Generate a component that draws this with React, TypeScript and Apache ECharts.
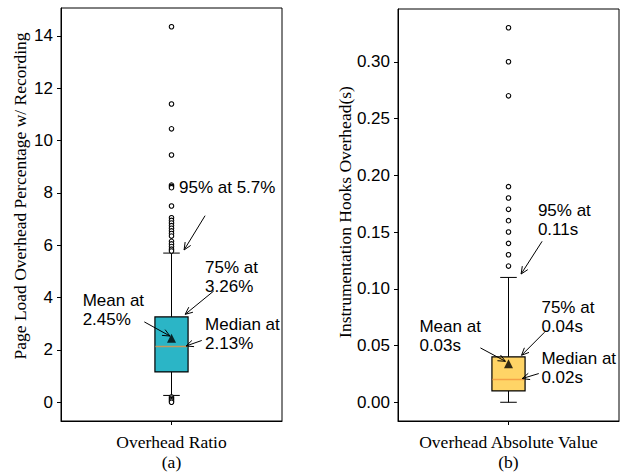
import React, { useEffect, useRef } from "react";
import * as echarts from "echarts";

// ---------- data ----------
const categories = ["Overhead Ratio", "Overhead Absolute Value"];
const subLabels = ["(a)", "(b)"];
const yNames = ["Page Load Overhead Percentage w/ Recording", "Instrumentation Hooks Overhead(s)"];

// [whiskerLow, Q1, median, Q3, whiskerHigh]
const ratioBox = [0.26, 1.16, 2.13, 3.26, 5.7];
const ratioMean = 2.45;
const ratioOutliers = [14.35, 11.4, 10.45, 9.45, 8.3, 8.25, 8.2, 7.5, 7.05, 6.95, 6.85, 6.75, 6.65, 6.55, 6.45, 6.35, 6.15, 6.05, 5.95, 5.85, 5.78, 0.2, 0.15, 0.1, 0.05, 0.0];
const ratioTicks = [0, 2, 4, 6, 8, 10, 12, 14];

const absBox = [0.0, 0.01, 0.02, 0.04, 0.11];
const absMean = 0.034;
const absOutliers = [0.33, 0.3, 0.27, 0.19, 0.18, 0.17, 0.16, 0.15, 0.14, 0.13, 0.12];
const absTicks = [0, 0.05, 0.1, 0.15, 0.2, 0.25, 0.3];

// annotations: label lines, text anchor [x, y(middle)], arrow tail, arrow head (data coords)
const ratioNoteLabels = [["95% at 5.7%"], ["75% at", "3.26%"], ["Mean at", "2.45%"], ["Median at", "2.13%"]];
const ratioNotePos = [[1.034, 8.19], [1.152, 4.77], [0.598, 3.54], [1.152, 2.59]];
const ratioNoteTail = [[1.152, 7.13], [1.191, 4.25], [0.877, 3.07], [1.137, 2.36]];
const ratioNoteHead = [[1.057, 5.82], [1.062, 3.36], [0.993, 2.53], [1.066, 2.15]];

const absNoteLabels = [["95% at", "0.11s"], ["75% at", "0.04s"], ["Mean at", "0.03s"], ["Median at", "0.02s"]];
const absNotePos = [[1.133, 0.1605], [1.149, 0.0753], [0.597, 0.0588], [1.149, 0.0305]];
const absNoteTail = [[1.152, 0.1418], [1.163, 0.0617], [0.873, 0.0479], [1.137, 0.0253]];
const absNoteHead = [[1.057, 0.113], [1.059, 0.0414], [0.986, 0.0361], [1.062, 0.0209]];

const boxColors = ["#2bb5c6", "#ffd466"];
const medianColors = ["#c4995c", "#f5a045"];

const SANS = "Liberation Sans, Arial, sans-serif";
const SERIF = "Liberation Serif, Times New Roman, serif";
const LINE_GAP = 19;

function range(vals: number[]) {
  const mn = Math.min(...vals);
  const mx = Math.max(...vals);
  const pad = (mx - mn) * 0.05;
  return [mn - pad, mx + pad];
}

function boxSeries(idx: number, stats: number[], color: string, med: string) {
  return {
    type: "custom",
    xAxisIndex: idx,
    yAxisIndex: idx,
    clip: false,
    z: 2,
    data: [[1, ...stats]],
    renderItem: (params: any, api: any) => {
      const x = api.value(0);
      const lo = api.coord([x, api.value(1)]);
      const q1 = api.coord([x, api.value(2)]);
      const md = api.coord([x, api.value(3)]);
      const q3 = api.coord([x, api.value(4)]);
      const hi = api.coord([x, api.value(5)]);
      const w = api.size([0.15, 0])[0];
      const cw = w / 2;
      const cx = md[0];
      const ls = { stroke: "#000", lineWidth: 1, fill: null };
      return {
        type: "group",
        children: [
          { type: "line", shape: { x1: cx, y1: q3[1], x2: cx, y2: hi[1] }, style: ls },
          { type: "line", shape: { x1: cx, y1: q1[1], x2: cx, y2: lo[1] }, style: ls },
          { type: "line", shape: { x1: cx - cw / 2, y1: hi[1], x2: cx + cw / 2, y2: hi[1] }, style: ls },
          { type: "line", shape: { x1: cx - cw / 2, y1: lo[1], x2: cx + cw / 2, y2: lo[1] }, style: ls },
          { type: "rect", shape: { x: cx - w / 2, y: q3[1], width: w, height: q1[1] - q3[1] }, style: { fill: color, stroke: "#000", lineWidth: 1.2 } },
          { type: "line", shape: { x1: cx - w / 2 + 0.6, y1: md[1], x2: cx + w / 2 - 0.6, y2: md[1] }, style: { stroke: med, lineWidth: 1.6 } },
        ],
      };
    },
  };
}

function noteSeries(idx: number, labels: string[][], pos: number[][], tail: number[][], head: number[][]) {
  return {
    type: "custom",
    xAxisIndex: idx,
    yAxisIndex: idx,
    clip: false,
    z: 5,
    data: labels.map((_, i) => [pos[i][0], pos[i][1], tail[i][0], tail[i][1], head[i][0], head[i][1]]),
    renderItem: (params: any, api: any) => {
      const i = params.dataIndex;
      const p = api.coord([api.value(0), api.value(1)]);
      const t = api.coord([api.value(2), api.value(3)]);
      const h = api.coord([api.value(4), api.value(5)]);
      const ang = Math.atan2(t[1] - h[1], t[0] - h[0]);
      const L = 8;
      const a = 0.42;
      const w1 = [h[0] + L * Math.cos(ang + a), h[1] + L * Math.sin(ang + a)];
      const w2 = [h[0] + L * Math.cos(ang - a), h[1] + L * Math.sin(ang - a)];
      const lines = labels[i];
      const n = lines.length;
      const texts = lines.map((s, k) => ({
        type: "text",
        x: p[0],
        y: p[1] + (k - (n - 1) / 2) * LINE_GAP,
        style: { text: s, fill: "#000", font: `17px ${SANS}`, align: "left", verticalAlign: "middle" },
      }));
      return {
        type: "group",
        children: [
          ...texts,
          { type: "line", shape: { x1: t[0], y1: t[1], x2: h[0], y2: h[1] }, style: { stroke: "#000", lineWidth: 1 } },
          { type: "polyline", shape: { points: [w1, h, w2] }, style: { stroke: "#000", lineWidth: 1, fill: null } },
        ],
      };
    },
  };
}

export default function App() {
  const ref = useRef<HTMLDivElement>(null);
  useEffect(() => {
    if (!ref.current) return;
    const chart = echarts.init(ref.current, undefined, { renderer: "svg" });
    const grids = [
      { left: 61, right: 342, top: 8, bottom: 50 },
      { left: 398, right: 5, top: 9, bottom: 50 },
    ];
    const ranges = [range([...ratioBox, ...ratioOutliers]), range([...absBox, ...absOutliers])];
    const ticks = [ratioTicks, absTicks];
    const xAxes = [0, 1].map((i) => ({
      type: "value",
      gridIndex: i,
      min: 0.5,
      max: 1.5,
      splitLine: { show: false },
      axisLine: { show: true, onZero: false, lineStyle: { color: "#000", width: 1 } },
      axisTick: { show: true, length: 4, customValues: [1], lineStyle: { color: "#000" } },
      axisLabel: {
        show: true,
        customValues: [1],
        margin: 11,
        formatter: () => `${categories[i]}\n${subLabels[i]}`,
        fontFamily: SERIF,
        fontSize: 17.5,
        lineHeight: 20,
        color: "#000",
      },
    }));
    const yAxes = [0, 1].map((i) => ({
      type: "value",
      gridIndex: i,
      min: ranges[i][0],
      max: ranges[i][1],
      splitLine: { show: false },
      axisLine: { show: true, onZero: false, lineStyle: { color: "#000", width: 1 } },
      axisTick: { show: true, length: 4, customValues: ticks[i], lineStyle: { color: "#000" } },
      axisLabel: {
        show: true,
        customValues: ticks[i],
        margin: 8,
        formatter: (v: number) => (i === 0 ? String(Math.round(v)) : v.toFixed(2)),
        fontFamily: SANS,
        fontSize: 17,
        color: "#000",
      },
    }));
    chart.setOption({
      animation: false,
      backgroundColor: "#fff",
      grid: grids.map((g) => ({ ...g, show: true, borderColor: "#000", borderWidth: 1, backgroundColor: "transparent" })),
      xAxis: xAxes,
      yAxis: yAxes,
      graphic: [
        {
          type: "text",
          x: 20,
          y: 196,
          rotation: Math.PI / 2,
          style: { text: yNames[0], font: `17.5px ${SERIF}`, fill: "#000", align: "center", verticalAlign: "middle" },
        },
        {
          type: "text",
          x: 345,
          y: 212,
          rotation: Math.PI / 2,
          style: { text: yNames[1], font: `17.5px ${SERIF}`, fill: "#000", align: "center", verticalAlign: "middle" },
        },
      ],
      series: [
        boxSeries(0, ratioBox, boxColors[0], medianColors[0]),
        boxSeries(1, absBox, boxColors[1], medianColors[1]),
        {
          type: "scatter",
          xAxisIndex: 0,
          yAxisIndex: 0,
          symbol: "circle",
          symbolSize: 4.5,
          z: 3,
          itemStyle: { color: "#fff", borderColor: "#000", borderWidth: 1.1, opacity: 1 },
          data: ratioOutliers.map((v) => [1, v]),
        },
        {
          type: "scatter",
          xAxisIndex: 1,
          yAxisIndex: 1,
          symbol: "circle",
          symbolSize: 4.5,
          z: 3,
          itemStyle: { color: "#fff", borderColor: "#000", borderWidth: 1.1, opacity: 1 },
          data: absOutliers.map((v) => [1, v]),
        },
        {
          type: "scatter",
          xAxisIndex: 0,
          yAxisIndex: 0,
          symbol: "triangle",
          symbolSize: 9,
          z: 4,
          itemStyle: { color: "#000" },
          data: [[1, ratioMean]],
        },
        {
          type: "scatter",
          xAxisIndex: 1,
          yAxisIndex: 1,
          symbol: "triangle",
          symbolSize: 9,
          z: 4,
          itemStyle: { color: "#000" },
          data: [[1, absMean]],
        },
        noteSeries(0, ratioNoteLabels, ratioNotePos, ratioNoteTail, ratioNoteHead),
        noteSeries(1, absNoteLabels, absNotePos, absNoteTail, absNoteHead),
      ],
    });
    return () => chart.dispose();
  }, []);
  return <div ref={ref} style={{ position: "absolute", left: 0, top: 0, width: 624, height: 472 }} />;
}
